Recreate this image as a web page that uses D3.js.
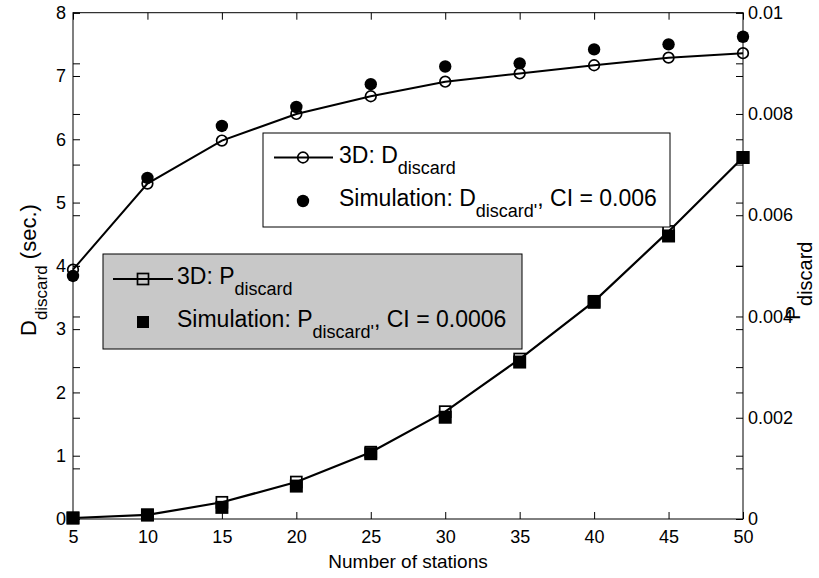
<!DOCTYPE html>
<html>
<head>
<meta charset="utf-8">
<script src="https://cdn.jsdelivr.net/npm/d3@7/dist/d3.min.js"></script>
<style>
  html, body { margin: 0; padding: 0; background: #fff; }
  svg { display: block; font-family: "Liberation Sans", Arial, sans-serif; }
</style>
</head>
<body>
<svg id="chart" width="819" height="578"></svg>
<script>
// Number of stations on the x axis
const stations = [5, 10, 15, 20, 25, 30, 35, 40, 45, 50];

// Mean discard delay (sec.), left axis
const dAnalytic = [3.94, 5.30, 5.98, 6.40, 6.68, 6.91, 7.04, 7.17, 7.29, 7.36];
const dSimulated = [3.84, 5.39, 6.21, 6.51, 6.87, 7.15, 7.20, 7.42, 7.50, 7.62];

// Discard probability, right axis
const pAnalytic = [0.00002, 0.00008, 0.00033, 0.00073, 0.00132, 0.00212, 0.00316, 0.00430, 0.00568, 0.00714];
const pSimulated = [0.00002, 0.00008, 0.00023, 0.00065, 0.00129, 0.00201, 0.00310, 0.00428, 0.00559, 0.00714];

// Tick values and labels
const xTicks = [5, 10, 15, 20, 25, 30, 35, 40, 45, 50];
const leftTicks = [0, 1, 2, 3, 4, 5, 6, 7, 8];
const rightTicks = [0, 0.002, 0.004, 0.006, 0.008, 0.01];
const rightTickLabels = ["0", "0.002", "0.004", "0.006", "0.008", "0.01"];
const rightMinorTicks = [0.001, 0.003, 0.005, 0.007, 0.009];

const svg = d3.select("#chart");
const L = 73, R = 743, T = 12.7, B = 519;

const x = d3.scaleLinear().domain([5, 50]).range([L, R]);
const yL = d3.scaleLinear().domain([0, 8]).range([B, T]);
const yR = d3.scaleLinear().domain([0, 0.01]).range([B, T]);

const tickLen = 7;
const tickFont = "18px";

function styleAxis(g) {
  g.select(".domain").remove();
  g.selectAll(".tick line").attr("stroke", "#000").attr("stroke-width", 1);
  g.selectAll(".tick text").attr("fill", "#000").style("font-size", tickFont);
}

// Frame
svg.append("rect")
  .attr("x", L).attr("y", T).attr("width", R - L).attr("height", B - T)
  .attr("fill", "none").attr("stroke", "#000").attr("stroke-width", 1);

// Bottom axis with labels
svg.append("g").attr("transform", `translate(0,${B})`)
  .call(d3.axisBottom(x).tickValues(xTicks).tickSizeInner(-tickLen).tickSizeOuter(0).tickFormat(d3.format("d")))
  .call(styleAxis)
  .call(g => g.selectAll(".tick text").attr("y", 24).attr("dy", 0));

// Top axis ticks
svg.append("g").attr("transform", `translate(0,${T})`)
  .call(d3.axisTop(x).tickValues(xTicks).tickSizeInner(-tickLen).tickSizeOuter(0).tickFormat(""))
  .call(styleAxis);

// Left axis: labelled integer ticks plus mirrored right-axis ticks
svg.append("g").attr("transform", `translate(${L},0)`)
  .call(d3.axisLeft(yL).tickValues(leftTicks).tickSizeInner(-tickLen).tickSizeOuter(0).tickPadding(7).tickFormat(d3.format("d")))
  .call(styleAxis);
svg.append("g").attr("transform", `translate(${L},0)`)
  .call(d3.axisLeft(yR).tickValues(rightMinorTicks.concat(rightTicks)).tickSizeInner(-tickLen).tickSizeOuter(0).tickFormat(""))
  .call(styleAxis);

// Right axis: labelled probability ticks plus mirrored left-axis ticks
svg.append("g").attr("transform", `translate(${R},0)`)
  .call(d3.axisRight(yR).tickValues(rightTicks).tickSizeInner(-tickLen).tickSizeOuter(0).tickPadding(5)
    .tickFormat((d, i) => rightTickLabels[i]))
  .call(styleAxis);
svg.append("g").attr("transform", `translate(${R},0)`)
  .call(d3.axisRight(yR).tickValues(rightMinorTicks).tickSizeInner(-tickLen).tickSizeOuter(0).tickFormat(""))
  .call(styleAxis);
svg.append("g").attr("transform", `translate(${R},0)`)
  .call(d3.axisRight(yL).tickValues(leftTicks).tickSizeInner(-tickLen).tickSizeOuter(0).tickFormat(""))
  .call(styleAxis);

// Axis titles
svg.append("text")
  .attr("x", (L + R) / 2).attr("y", 568)
  .attr("text-anchor", "middle").style("font-size", "19px").attr("fill", "#000")
  .text("Number of stations");

const yTitle = svg.append("text")
  .attr("transform", "translate(36,336) rotate(-90)")
  .attr("text-anchor", "start").style("font-size", "22px").attr("fill", "#000");
yTitle.append("tspan").text("D");
yTitle.append("tspan").attr("dy", 11).style("font-size", "17px").text("discard");
yTitle.append("tspan").attr("dy", -11).text(" (sec.)");

const y2Title = svg.append("text")
  .attr("transform", "translate(800,320) rotate(-90)")
  .attr("text-anchor", "start").style("font-size", "21px").attr("fill", "#000");
y2Title.append("tspan").text("P");
y2Title.append("tspan").attr("dy", 12).style("font-size", "20px").text("discard");

// Series
const dLine = d3.line().x((d, i) => x(stations[i])).y(d => yL(d));
const pLine = d3.line().x((d, i) => x(stations[i])).y(d => yR(d));

svg.append("path").datum(dAnalytic).attr("d", dLine)
  .attr("fill", "none").attr("stroke", "#000").attr("stroke-width", 2);
svg.append("path").datum(pAnalytic).attr("d", pLine)
  .attr("fill", "none").attr("stroke", "#000").attr("stroke-width", 2.2);

// Simulated markers
svg.append("g").selectAll("circle").data(dSimulated).join("circle")
  .attr("cx", (d, i) => x(stations[i])).attr("cy", d => yL(d)).attr("r", 6.2).attr("fill", "#000");
svg.append("g").selectAll("rect").data(pSimulated).join("rect")
  .attr("x", (d, i) => x(stations[i]) - 6.5).attr("y", d => yR(d) - 6.5)
  .attr("width", 13).attr("height", 13).attr("fill", "#000");

// Analytic markers (open)
svg.append("g").selectAll("circle").data(dAnalytic).join("circle")
  .attr("cx", (d, i) => x(stations[i])).attr("cy", d => yL(d)).attr("r", 5.3)
  .attr("fill", "none").attr("stroke", "#000").attr("stroke-width", 1.7);
svg.append("g").selectAll("rect").data(pAnalytic).join("rect")
  .attr("x", (d, i) => x(stations[i]) - 5.5).attr("y", d => yR(d) - 5.5)
  .attr("width", 11).attr("height", 11)
  .attr("fill", "none").attr("stroke", "#000").attr("stroke-width", 1.7);

// Legend text: main text, subscript, optional trailing text
function legendText(g, tx, ty, main, sub, rest) {
  const t = g.append("text").attr("x", tx).attr("y", ty)
    .style("font-size", "23px").attr("fill", "#000");
  t.append("tspan").text(main);
  t.append("tspan").attr("dy", 11).style("font-size", "18px").text(sub);
  if (rest) t.append("tspan").attr("dy", -11).text(rest);
}

// Delay legend
const lg1 = svg.append("g");
lg1.append("rect").attr("x", 263).attr("y", 133).attr("width", 407).attr("height", 94)
  .attr("fill", "#fff").attr("stroke", "#000").attr("stroke-width", 1);
lg1.append("line").attr("x1", 274).attr("x2", 333).attr("y1", 157.5).attr("y2", 157.5)
  .attr("stroke", "#000").attr("stroke-width", 2);
lg1.append("circle").attr("cx", 303).attr("cy", 157.5).attr("r", 5.3)
  .attr("fill", "none").attr("stroke", "#000").attr("stroke-width", 1.7);
legendText(lg1, 339, 162.5, "3D: D", "discard");
lg1.append("circle").attr("cx", 303).attr("cy", 201).attr("r", 6.2).attr("fill", "#000");
legendText(lg1, 339, 206, "Simulation: D", "discard'", ", CI = 0.006");

// Probability legend
const lg2 = svg.append("g");
lg2.append("rect").attr("x", 103).attr("y", 254).attr("width", 419).attr("height", 95)
  .attr("fill", "#c8c8c8").attr("stroke", "#000").attr("stroke-width", 1);
lg2.append("line").attr("x1", 113).attr("x2", 173).attr("y1", 279).attr("y2", 279)
  .attr("stroke", "#000").attr("stroke-width", 2.2);
lg2.append("rect").attr("x", 143 - 5.5).attr("y", 279 - 5.5).attr("width", 11).attr("height", 11)
  .attr("fill", "none").attr("stroke", "#000").attr("stroke-width", 1.7);
legendText(lg2, 177, 284, "3D: P", "discard");
lg2.append("rect").attr("x", 143 - 6).attr("y", 322 - 6).attr("width", 12).attr("height", 12).attr("fill", "#000");
legendText(lg2, 177, 327, "Simulation: P", "discard'", ", CI = 0.0006");
</script>
</body>
</html>
